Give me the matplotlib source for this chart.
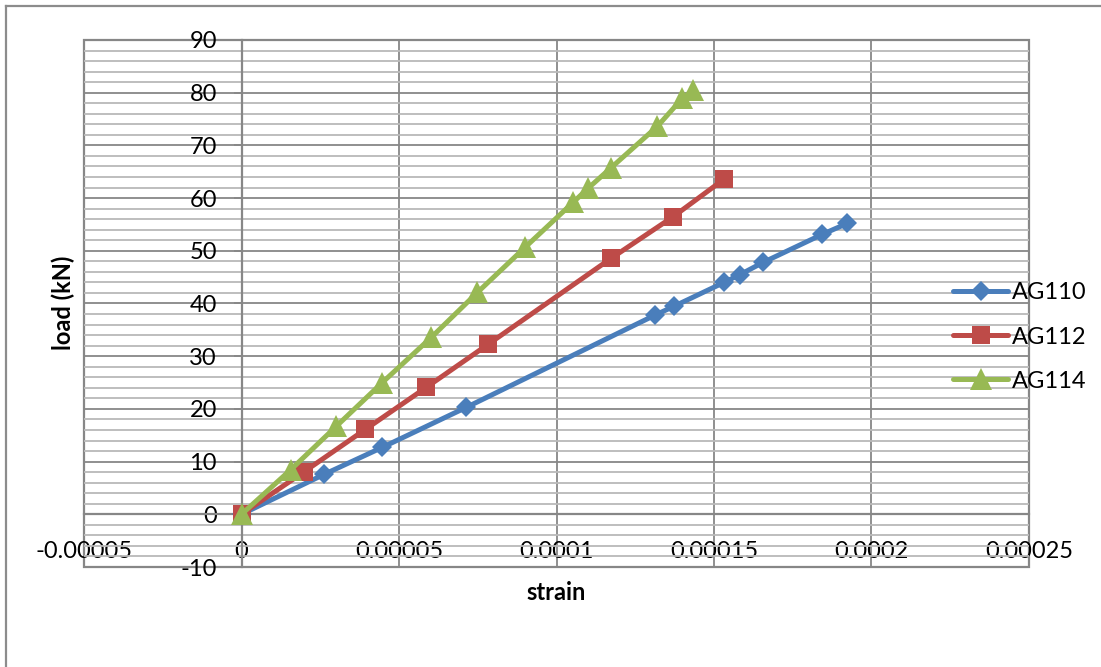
import matplotlib
matplotlib.use("Agg")
import matplotlib.pyplot as plt
from matplotlib.patches import Rectangle
from matplotlib.lines import Line2D
from matplotlib.ticker import MultipleLocator, FixedLocator, FixedFormatter

plt.rcParams['font.family'] = ['Lato', 'DejaVu Sans']

# --- data -----------------------------------------------------------------
series_names = ["AG110", "AG112", "AG114"]

ag110_strain = [0, 2.63e-5, 4.47e-5, 7.14e-5, 1.313e-4, 1.374e-4, 1.532e-4,
                1.583e-4, 1.656e-4, 1.843e-4, 1.923e-4]
ag110_load = [0, 7.6, 12.7, 20.3, 37.8, 39.5, 44.0, 45.5, 47.8, 53.1, 55.2]

ag112_strain = [0, 1.97e-5, 3.93e-5, 5.87e-5, 7.84e-5, 1.174e-4, 1.371e-4, 1.532e-4]
ag112_load = [0, 8.0, 16.1, 24.1, 32.3, 48.6, 56.5, 63.6]

ag114_strain = [0, 1.57e-5, 3.01e-5, 4.47e-5, 6.03e-5, 7.49e-5, 9.01e-5,
                1.053e-4, 1.101e-4, 1.174e-4, 1.32e-4, 1.399e-4, 1.434e-4]
ag114_load = [0, 8.5, 16.7, 25.0, 33.6, 42.1, 50.7, 59.2, 61.9, 65.8, 73.6, 78.9, 80.5]

x_ticks = [-0.00005, 0, 0.00005, 0.0001, 0.00015, 0.0002, 0.00025]
x_tick_labels = ["-0.00005", "0", "0.00005", "0.0001", "0.00015", "0.0002", "0.00025"]
y_ticks = list(range(-10, 91, 10))
y_tick_labels = [str(v) for v in y_ticks]

# --- style ----------------------------------------------------------------
W, H = 1101, 667
GRID_MAJOR = "#878787"
GRID_MINOR = "#b9b9b9"
colors = ["#4a7ebb", "#be4b48", "#98b954"]
markers = ["D", "s", "^"]
msizes = [10.5, 13.5, 16]
FS = 17

fig = plt.figure(figsize=(W / 100, H / 100), dpi=100)
fig.patch.set_facecolor("white")

# chart-area border (left and top edges)
fig.add_artist(Line2D([6 / W, 6 / W], [0, 1 - 6 / H], transform=fig.transFigure,
                      color="#8c8c8c", lw=1.6))
fig.add_artist(Line2D([6 / W, 1], [1 - 6 / H, 1 - 6 / H], transform=fig.transFigure,
                      color="#8c8c8c", lw=1.6))

ax = fig.add_axes([84 / W, 1 - 567 / H, (1029 - 84) / W, (567 - 40) / H])
ax.set_xlim(-0.00005, 0.00025)
ax.set_ylim(-10, 90)

ax.xaxis.set_major_locator(FixedLocator(x_ticks))
ax.xaxis.set_major_formatter(FixedFormatter(x_tick_labels))
ax.yaxis.set_major_locator(FixedLocator(y_ticks))
ax.yaxis.set_major_formatter(FixedFormatter(y_tick_labels))
ax.yaxis.set_minor_locator(MultipleLocator(2))

ax.set_axisbelow(True)
ax.grid(True, which="minor", axis="y", color=GRID_MINOR, lw=1.3)
ax.grid(True, which="major", axis="both", color=GRID_MAJOR, lw=1.3)

# axes cross at the origin
for side in ("top", "right"):
    ax.spines[side].set_visible(False)
ax.spines["left"].set_position(("data", 0))
ax.spines["bottom"].set_position(("data", 0))
for side in ("left", "bottom"):
    ax.spines[side].set_color(GRID_MAJOR)
    ax.spines[side].set_linewidth(1.6)

# plot-area outline
ax.add_patch(Rectangle((0, 0), 1, 1, transform=ax.transAxes, fill=False,
                       edgecolor=GRID_MAJOR, lw=1.6, clip_on=False, zorder=0.5))

ax.tick_params(axis="y", which="major", direction="out", length=5.8, width=1.2,
               color=GRID_MAJOR, pad=12, labelsize=FS)
ax.tick_params(axis="x", which="major", length=0, pad=19, labelsize=FS)
ax.tick_params(which="minor", length=0)

series = [(ag110_strain, ag110_load), (ag112_strain, ag112_load), (ag114_strain, ag114_load)]
for (xs, ys), name, c, m, ms in zip(series, series_names, colors, markers, msizes):
    ax.plot(xs, ys, color=c, lw=3.6, marker=m, markersize=ms, markerfacecolor=c,
            markeredgecolor=c, markeredgewidth=0, solid_capstyle="round",
            solid_joinstyle="round", label=name, zorder=3)

ax.legend(loc="center left", bbox_to_anchor=(953 / W, 1 - 337 / H),
          bbox_transform=fig.transFigure, frameon=False, fontsize=FS,
          handlelength=2.33, handletextpad=0.17, labelspacing=0.98,
          borderpad=0, borderaxespad=0)

fig.text(556 / W, 1 - 592 / H, "strain", ha="center", va="center",
         fontsize=FS, fontweight="bold")
fig.text(63 / W, 1 - 303 / H, "load (kN)", ha="center", va="center",
         rotation=90, fontsize=FS, fontweight="bold")

fig.savefig("out.png", dpi=100)
